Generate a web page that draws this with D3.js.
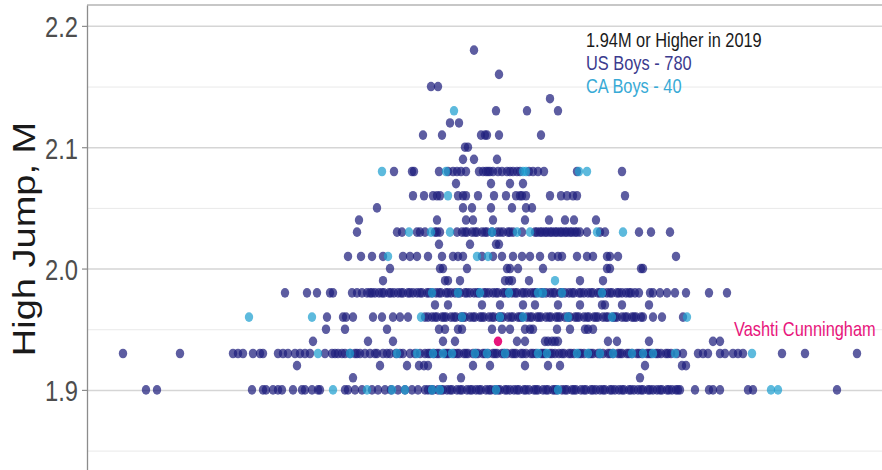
<!DOCTYPE html>
<html>
<head>
<meta charset="utf-8">
<script src="https://cdn.jsdelivr.net/npm/d3@7"></script>
<style>
  body { margin: 0; background: #fff; }
  svg { display: block; font-family: "Liberation Sans", Arial, sans-serif; }
</style>
</head>
<body>
<svg id="chart" width="882" height="470"></svg>
<script>
// best marks (m), one row per height; jitter is the horizontal spread around the centre
var levels = [2.18, 2.16, 2.15, 2.14, 2.13, 2.12, 2.11, 2.10, 2.09, 2.08, 2.07, 2.06, 2.05, 2.04,
  2.03, 2.02, 2.01, 2.00, 1.99, 1.98, 1.97, 1.96, 1.95, 1.94, 1.93, 1.92, 1.91, 1.90];

var usJitter = [
  [-11],
  [14],
  [-54, -47],
  [65],
  [11, 42, 73],
  [-35, -26],
  [-62, -43, -4, 0, 2, 14, 56],
  [-20, -17],
  [-22, -11, 12],
  [-91, -73, -71, -46, -37, -32, -28, -24, -19, -6, -2, 1, 3, 5, 8, 13, 17, 22, 25, 28, 32, 35, 44, 48, 53, 59, 92, 137],
  [-29, 6, 25, 38],
  [-72, -61, -52, -48, -45, -27, -22, -19, -7, 9, 21, 31, 35, 37, 41, 65, 76, 82, 88, 92, 140],
  [-108, -22, -13, 6, 27, 41, 47],
  [-126, -48, -19, -12, 8, 40, 64, 80, 89, 111],
  [-128, -88, -83, -68, -65, -60, -50, -48, -45, -28, -23, -20, -18, -13, -10, -8, -3, 0, 2, 7, 12, 15, 18, 23, 25, 28,
   37, 50, 52, 55, 57, 60, 62, 65, 67, 70, 72, 75, 77, 80, 82, 85, 87, 90, 92, 95, 102, 115, 120, 154, 166, 185],
  [-46, -15, 11, 14],
  [-137, -124, -113, -102, -82, -75, -68, -57, -43, -32, -27, -22, -3, 8, 17, 28, 37, 45, 55, 67, 73, 77, 92, 102, 108, 122, 125, 133, 191],
  [-95, -45, -42, -18, 22, 25, 33, 58, 122, 125, 156, 158],
  [-102, -40, -37, -25, 20, 24, 27, 44, 95, 118],
  [-200, -178, -168, -155, -152, -133, -128, -123, -118, -115, -113, -110, -106, -103, -101, -96, -94, -91, -87, -84, -82,
   -77, -75, -72, -68, -65, -63, -58, -56, -53, -49, -46, -44, -39, -37, -34, -30, -27, -25, -20, -18, -15, -11, -8, -6,
   -1, 1, 4, 8, 11, 13, 18, 20, 23, 27, 30, 32, 37, 39, 42, 46, 49, 51, 56, 58, 61, 65, 68, 70, 75, 77, 80, 84, 87, 89,
   94, 96, 99, 103, 106, 108, 113, 115, 118, 122, 125, 127, 132, 134, 137, 141, 144, 146, 150, 154, 165, 168, 175, 182,
   190, 201, 224, 242],
  [-50, -37, -3, 15, 38, 50, 73, 95, 117, 120, 137, 164],
  [-158, -142, -139, -132, -112, -103, -92, -85, -77, -60, -57, -53, -50, -48, -43, -41, -39, -34, -31, -29, -24, -22,
   -20, -15, -12, -10, -5, -3, -1, 4, 7, 9, 14, 16, 18, 23, 26, 28, 33, 35, 37, 42, 45, 47, 52, 54, 56, 61, 64, 66, 71,
   73, 75, 80, 83, 85, 90, 92, 94, 99, 102, 104, 109, 111, 113, 118, 121, 123, 128, 130, 132, 137, 140, 142, 147, 149,
   151, 156, 158, 168, 177, 198],
  [-159, -140, -98, -46, -40, -27, -23, 7, 17, 25, 40, 45, 48, 72, 85, 100, 103, 108],
  [-172, -117, -92, -42, -30, 32, 40, 60, 63, 67, 70, 73, 123, 132, 164, 228, 235],
  [-362, -305, -252, -247, -242, -232, -225, -222, -207, -202, -197, -190, -185, -180, -175, -160, -153, -150, -147, -143,
   -140, -135, -130, -128, -125, -120, -115, -110, -108, -102, -98, -95, -89, -85, -82, -75, -70, -65, -60, -57, -55,
   -51, -48, -46, -40, -38, -36, -31, -28, -26, -21, -19, -17, -12, -9, -7, -2, 0, 3, 8, 10, 12, 17, 19, 22, 27, 29, 31,
   36, 38, 41, 46, 48, 51, 56, 58, 60, 65, 67, 70, 74, 77, 79, 84, 86, 89, 94, 96, 99, 104, 106, 108, 113, 115, 118,
   123, 125, 128, 133, 135, 137, 142, 144, 147, 152, 154, 157, 162, 164, 166, 171, 173, 176, 181, 183, 186, 192, 198,
   213, 218, 223, 235, 240, 248, 253, 258, 297, 320, 372],
  [-188, -105, -78, -66, -61, -57, -12, 5, 40, 63, 75, 160, 197, 201],
  [-132, -42, -24, 155],
  [-339, -328, -233, -222, -219, -212, -207, -203, -192, -183, -180, -173, -167, -165, -140, -137, -130, -123, -113, -107,
   -100, -94, -87, -80, -73, -67, -60, -57, -54, -52, -47, -44, -42, -38, -35, -33, -28, -25, -23, -18, -15, -13, -9,
   -6, -4, 1, 4, 6, 10, 13, 15, 20, 22, 25, 29, 32, 34, 39, 41, 44, 49, 51, 53, 58, 61, 63, 68, 70, 72, 77, 80, 82, 87,
   89, 91, 96, 99, 101, 106, 108, 111, 115, 118, 120, 125, 127, 130, 134, 137, 139, 144, 146, 149, 153, 156, 158, 163,
   165, 168, 172, 175, 177, 182, 184, 187, 191, 193, 195, 210, 224, 228, 235, 263, 268, 352]
];

var caJitter = [
  [], [], [], [],
  [-31],
  [], [], [], [],
  [-103, -39, 38, 41, 94, 102],
  [],
  [-37],
  [], [],
  [-76, -54, -35, 7, 32, 45, 112, 138],
  [],
  [-97, -8, 3],
  [],
  [70],
  [-53, -27, -5, 24, 53, 58, 77, 117],
  [],
  [-236, -173, -64, -23, 15, 38, 83, 127, 202],
  [], [],
  [-167, -135, -88, -68, -52, -42, -33, -10, 2, 20, 53, 62, 92, 103, 115, 128, 147, 158, 168, 190, 267],
  [], [],
  [-152, -118, -93, -80, -53, -45, 11, 73, 286, 293]
];

var vashti = [{ name: "Vashti Cunningham", height: 1.94, jitter: 13 }];

var majorTicks = [1.9, 2.0, 2.1, 2.2];
var minorTicks = [1.85, 1.95, 2.05, 2.15];
var tickLabels = ["1.9", "2.0", "2.1", "2.2"];
var legendLines = ["1.94M or Higher in 2019", "US Boys - 780", "CA Boys - 40"];
var legendColors = ["#1a1a1a", "#3b3b8e", "#38aad6"];

function main() {
  var svg = d3.select("#chart");
  var left = 87, top = 5;
  var w = 882 - left, h = 470 - top;
  var squish = 0.82; // the source image is narrower than it is tall

  var g = svg.append("g").attr("transform", "translate(" + left + "," + top + ")");
  var x = d3.scaleLinear().domain([-398, 397]).range([0, w]);
  var y = d3.scaleLinear().domain([1.834, 2.2172]).range([h, 0]);

  // grid
  var minor = g.append("g")
    .call(d3.axisLeft(y).tickValues(minorTicks).tickSize(-w).tickFormat(""));
  minor.select(".domain").remove();
  minor.selectAll("line").attr("stroke", "#e9e9e9").attr("stroke-width", 1);

  var major = g.append("g")
    .call(d3.axisLeft(y).tickValues(majorTicks).tickSize(-w).tickFormat(""));
  major.select(".domain").remove();
  major.selectAll("line").attr("stroke", "#d5d5d5").attr("stroke-width", 1.5);

  g.append("line")
    .attr("x1", 0).attr("x2", w).attr("y1", 0).attr("y2", 0)
    .attr("stroke", "#8f8f8f").attr("stroke-width", 1.2);

  // y axis
  var axis = g.append("g")
    .call(d3.axisLeft(y).tickValues(majorTicks).tickSize(5).tickSizeOuter(0)
      .tickFormat(function(d, i) { return tickLabels[i]; }));
  axis.select(".domain").attr("stroke", "#8c8c8c").attr("stroke-width", 1.3);
  axis.selectAll(".tick line").attr("stroke", "#8c8c8c").attr("stroke-width", 1.2);
  axis.selectAll(".tick text")
    .attr("x", null).attr("dy", null)
    .attr("transform", "translate(-9,11) scale(" + squish + ",1)")
    .attr("font-family", "Liberation Sans, Arial, sans-serif")
    .attr("font-size", 29)
    .attr("fill", "#4d4d4d");

  svg.append("text")
    .attr("transform", "translate(35,239) rotate(-90) scale(1," + squish + ")")
    .attr("text-anchor", "middle")
    .attr("font-size", 38)
    .attr("fill", "#1a1a1a")
    .text("High Jump, M");

  // points
  var usPoints = [], caPoints = [];
  for (var i = 0; i < levels.length; i++) {
    usJitter[i].forEach(function(j) { usPoints.push({ height: levels[i], jitter: j }); });
    caJitter[i].forEach(function(j) { caPoints.push({ height: levels[i], jitter: j }); });
  }

  drawPoints(g, usPoints, x, y, "#1f1f7d", 0.72);
  drawPoints(g, caPoints, x, y, "#1f9fd0", 0.72);
  drawPoints(g, vashti, x, y, "#e8157c", 1);

  // labels
  g.selectAll("text.note").data(vashti).enter().append("text")
    .attr("class", "note")
    .attr("transform", function(d) {
      return "translate(" + x(249) + "," + (y(d.height) - 5) + ") scale(" + squish + ",1)";
    })
    .attr("font-size", 20)
    .attr("fill", "#e8157c")
    .text(function(d) { return d.name; });

  var legend = svg.append("g");
  legendLines.forEach(function(t, k) {
    legend.append("text")
      .attr("transform", "translate(586," + (46.5 + k * 23) + ") scale(" + squish + ",1)")
      .attr("font-size", 20)
      .attr("fill", legendColors[k])
      .text(t);
  });
}

function drawPoints(group, data, x, y, color, alpha) {
  group.append("g").selectAll("ellipse")
    .data(data)
    .enter()
    .append("ellipse")
    .attr("cx", function(d) { return x(d.jitter); })
    .attr("cy", function(d) { return y(d.height); })
    .attr("rx", 4.2)
    .attr("ry", 4.8)
    .attr("fill", color)
    .attr("fill-opacity", alpha);
}

main();
</script>
</body>
</html>
